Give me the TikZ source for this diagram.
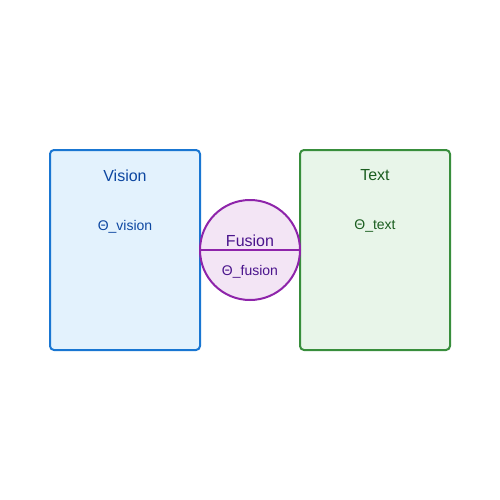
\documentclass[tikz,border=0pt]{standalone}
\usepackage{fontspec}
\setmainfont{Liberation Sans}
\definecolor{vstroke}{HTML}{1976D2}
\definecolor{vfill}{HTML}{E3F2FD}
\definecolor{vtext}{HTML}{0D47A1}
\definecolor{tstroke}{HTML}{388E3C}
\definecolor{tfill}{HTML}{E8F5E9}
\definecolor{ttext}{HTML}{1B5E20}
\definecolor{fstroke}{HTML}{8E24AA}
\definecolor{ffill}{HTML}{F3E5F5}
\definecolor{ftext}{HTML}{4A148C}
\tikzset{
  panel/.style={draw, line width=2pt, rounded corners=4pt, minimum width=150pt, minimum height=200pt, inner sep=0pt},
  titlelbl/.style={font=\fontsize{16}{18}\selectfont, inner sep=0pt},
  paramlbl/.style={font=\fontsize{14}{16}\selectfont, inner sep=0pt},
  fusioncirc/.style={circle, draw=fstroke, fill=ffill, line width=2pt, minimum size=100pt, inner sep=0pt},
}
\begin{document}
\begin{tikzpicture}[x=1pt,y=-1pt]
\useasboundingbox (0,0) rectangle (500,500);
\node[panel, draw=vstroke, fill=vfill] (vision) at (125,250) {};
\node[panel, draw=tstroke, fill=tfill] (text) at (375,250) {};
\node[fusioncirc] (fusion) at (250,250) {};
\draw[fstroke, line width=2pt] (fusion.west) -- (fusion.east);
\node[titlelbl, text=vtext] (visiontitle) at (125,175.5) {Vision};
\node[paramlbl, text=vtext] (visionparam) at (125,226.5) {Θ\_vision};
\node[titlelbl, text=ttext] (texttitle) at (375,175.5) {Text};
\node[paramlbl, text=ttext] (textparam) at (375,226.5) {Θ\_text};
\node[titlelbl, text=ftext] (fusiontitle) at (250,240.5) {Fusion};
\node[paramlbl, text=ftext] (fusionparam) at (250,271.5) {Θ\_fusion};
\end{tikzpicture}
\end{document}
